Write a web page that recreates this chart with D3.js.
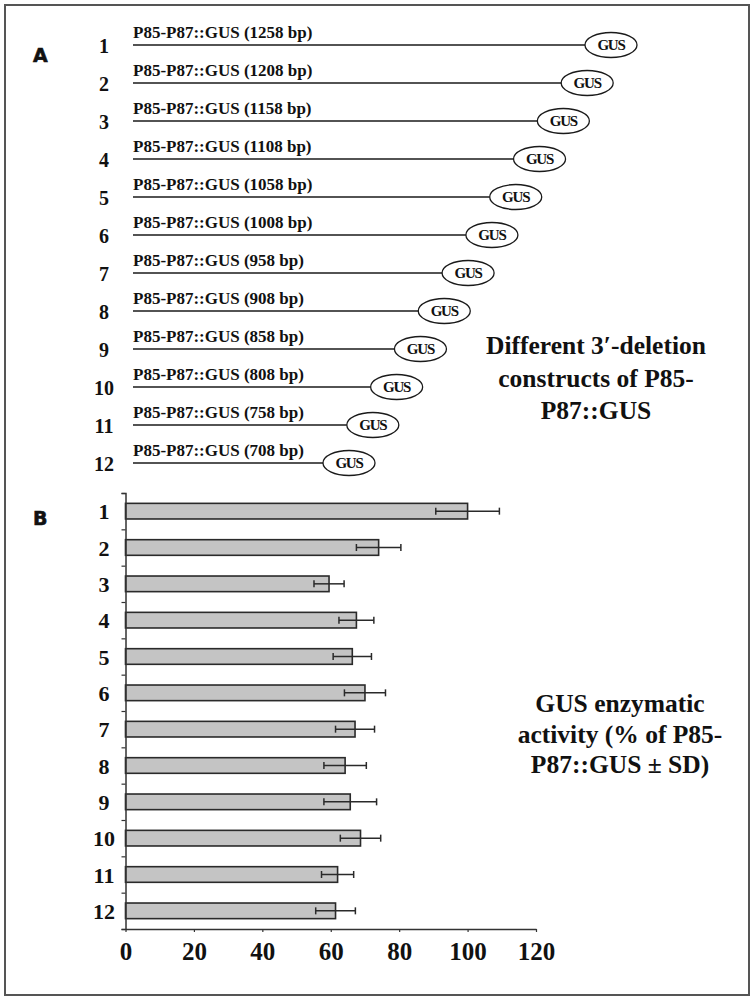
<!DOCTYPE html>
<html>
<head>
<meta charset="utf-8">
<script src="https://cdn.jsdelivr.net/npm/d3@7"></script>
<style>
  html, body { margin: 0; padding: 0; background: #fff; }
  svg { display: block; }
  text { font-family: "Liberation Serif", "Times New Roman", serif; font-weight: bold; fill: #111; }
</style>
</head>
<body>
<svg id="chart" width="755" height="1001"></svg>
<script>
// ---------- data ----------
const constructIds = ["1","2","3","4","5","6","7","8","9","10","11","12"];
const constructBp = [1258, 1208, 1158, 1108, 1058, 1008, 958, 908, 858, 808, 758, 708];
const constructLabels = [
  "P85-P87::GUS (1258 bp)", "P85-P87::GUS (1208 bp)", "P85-P87::GUS (1158 bp)",
  "P85-P87::GUS (1108 bp)", "P85-P87::GUS (1058 bp)", "P85-P87::GUS (1008 bp)",
  "P85-P87::GUS (958 bp)", "P85-P87::GUS (908 bp)", "P85-P87::GUS (858 bp)",
  "P85-P87::GUS (808 bp)", "P85-P87::GUS (758 bp)", "P85-P87::GUS (708 bp)"
];
const activity = [100, 74, 59.5, 67.5, 66.3, 70, 67.1, 64.2, 65.7, 68.7, 62, 61.4];
const activitySD = [9.3, 6.5, 4.4, 5.1, 5.6, 6.0, 5.7, 6.2, 7.7, 5.9, 4.7, 5.8];
const xTicks = [0, 20, 40, 60, 80, 100, 120];
const annotationA = ["Different 3\u2032-deletion", "constructs of P85-", "P87::GUS"];
const annotationB = ["GUS enzymatic", "activity (% of P85-", "P87::GUS \u00b1 SD)"];

// ---------- drawing ----------
const svg = d3.select("#chart");
const dark = "#1a1a1a";

// frame
svg.append("rect")
  .attr("x", 5).attr("y", 5).attr("width", 744).attr("height", 990)
  .attr("fill", "none").attr("stroke", "#555").attr("stroke-width", 2);

// ===== Panel A =====
svg.append("text").attr("x", 33).attr("y", 61.5)
  .style("font-family", "'DejaVu Sans', sans-serif").style("font-weight", "900")
  .style("font-size", "19px").attr("stroke", "#111").attr("stroke-width", 0.6)
  .text("A");

const yA = d3.scalePoint().domain(constructIds).range([45, 463]);
const xA = d3.scaleLinear().domain([708, 1258]).range([323, 585]);
const lineStart = 133;
const rx = 26, ry = 12.5;

const rowsA = svg.append("g").selectAll("g.row")
  .data(constructIds.map((id, i) => ({ id, bp: constructBp[i], label: constructLabels[i] })))
  .join("g").attr("class", "row");

rowsA.append("line")
  .attr("x1", lineStart).attr("x2", d => xA(d.bp))
  .attr("y1", d => yA(d.id)).attr("y2", d => yA(d.id))
  .attr("stroke", dark).attr("stroke-width", 1.3);

rowsA.append("ellipse")
  .attr("cx", d => xA(d.bp) + rx).attr("cy", d => yA(d.id))
  .attr("rx", rx).attr("ry", ry)
  .attr("fill", "#fff").attr("stroke", dark).attr("stroke-width", 1.3);

rowsA.append("text")
  .attr("x", d => xA(d.bp) + rx).attr("y", d => yA(d.id) + 5)
  .attr("text-anchor", "middle")
  .style("font-size", "15px").style("letter-spacing", "-1.2px")
  .text("GUS");

rowsA.append("text")
  .attr("x", lineStart).attr("y", d => yA(d.id) - 7.5)
  .style("font-size", "17px")
  .text(d => d.label);

rowsA.append("text")
  .attr("x", 104).attr("y", d => yA(d.id) + 7.5)
  .attr("text-anchor", "middle")
  .style("font-size", "20px")
  .text(d => d.id);

svg.append("g").selectAll("text")
  .data(annotationA).join("text")
  .attr("x", 596).attr("y", (d, i) => 354 + i * 32.5)
  .attr("text-anchor", "middle").style("font-size", "25.5px")
  .text(d => d);

// ===== Panel B =====
svg.append("text").attr("x", 33).attr("y", 525)
  .style("font-family", "'DejaVu Sans', sans-serif").style("font-weight", "900")
  .style("font-size", "19px").attr("stroke", "#111").attr("stroke-width", 0.6)
  .text("B");

const x0 = 125.5, x1 = 536, yTop = 493, yBot = 929;
const xB = d3.scaleLinear().domain([0, 120]).range([x0, x1]);
const yB = d3.scaleBand().domain(constructIds).range([yTop, yBot]).paddingInner(0.57).paddingOuter(0.285);
const yTickScale = d3.scaleLinear().domain([0, constructIds.length]).range([yTop, yBot]);

const barsData = constructIds.map((id, i) => ({ id, v: activity[i], sd: activitySD[i] }));

const barG = svg.append("g");
barG.selectAll("rect").data(barsData).join("rect")
  .attr("x", xB(0)).attr("y", d => yB(d.id))
  .attr("width", d => xB(d.v) - xB(0)).attr("height", yB.bandwidth())
  .attr("fill", "#c4c4c4").attr("stroke", "#2a2a2a").attr("stroke-width", 1.6);

// error bars
const errG = svg.append("g").attr("stroke", "#2a2a2a").attr("stroke-width", 1.5);
const cy = d => yB(d.id) + yB.bandwidth() / 2;
errG.selectAll("line.h").data(barsData).join("line").attr("class", "h")
  .attr("x1", d => xB(d.v - d.sd)).attr("x2", d => xB(d.v + d.sd))
  .attr("y1", cy).attr("y2", cy);
errG.selectAll("line.l").data(barsData).join("line").attr("class", "l")
  .attr("x1", d => xB(d.v - d.sd)).attr("x2", d => xB(d.v - d.sd))
  .attr("y1", d => cy(d) - 3.5).attr("y2", d => cy(d) + 3.5);
errG.selectAll("line.r").data(barsData).join("line").attr("class", "r")
  .attr("x1", d => xB(d.v + d.sd)).attr("x2", d => xB(d.v + d.sd))
  .attr("y1", d => cy(d) - 3.5).attr("y2", d => cy(d) + 3.5);

// y axis (boundary ticks)
const yAxisG = svg.append("g").attr("transform", `translate(${x0},0)`)
  .call(d3.axisLeft(yTickScale).ticks(12).tickSize(4).tickFormat(""));
yAxisG.select(".domain").attr("stroke", "#333").attr("stroke-width", 1.5);
yAxisG.selectAll(".tick line").attr("stroke", "#333").attr("stroke-width", 1.2);

// category labels
svg.append("g").selectAll("text").data(constructIds).join("text")
  .attr("x", 104).attr("y", d => yB(d) + yB.bandwidth() / 2 + 8)
  .attr("text-anchor", "middle").style("font-size", "22px")
  .text(d => d);

// x axis
const xAxisG = svg.append("g").attr("transform", `translate(0,${yBot})`)
  .call(d3.axisBottom(xB).tickValues(xTicks).tickSize(3).tickPadding(10.5).tickSizeOuter(0));
xAxisG.select(".domain").attr("stroke", "#333").attr("stroke-width", 1.5);
xAxisG.selectAll(".tick line").attr("stroke", "#333").attr("stroke-width", 1.2);
xAxisG.selectAll(".tick text")
  .style("font-family", "'Liberation Serif', serif").style("font-weight", "bold")
  .style("font-size", "25px").attr("fill", "#111");

svg.append("g").selectAll("text")
  .data(annotationB).join("text")
  .attr("x", 620).attr("y", (d, i) => 712 + i * 30.5)
  .attr("text-anchor", "middle").style("font-size", "25.5px")
  .text(d => d);
</script>
</body>
</html>
